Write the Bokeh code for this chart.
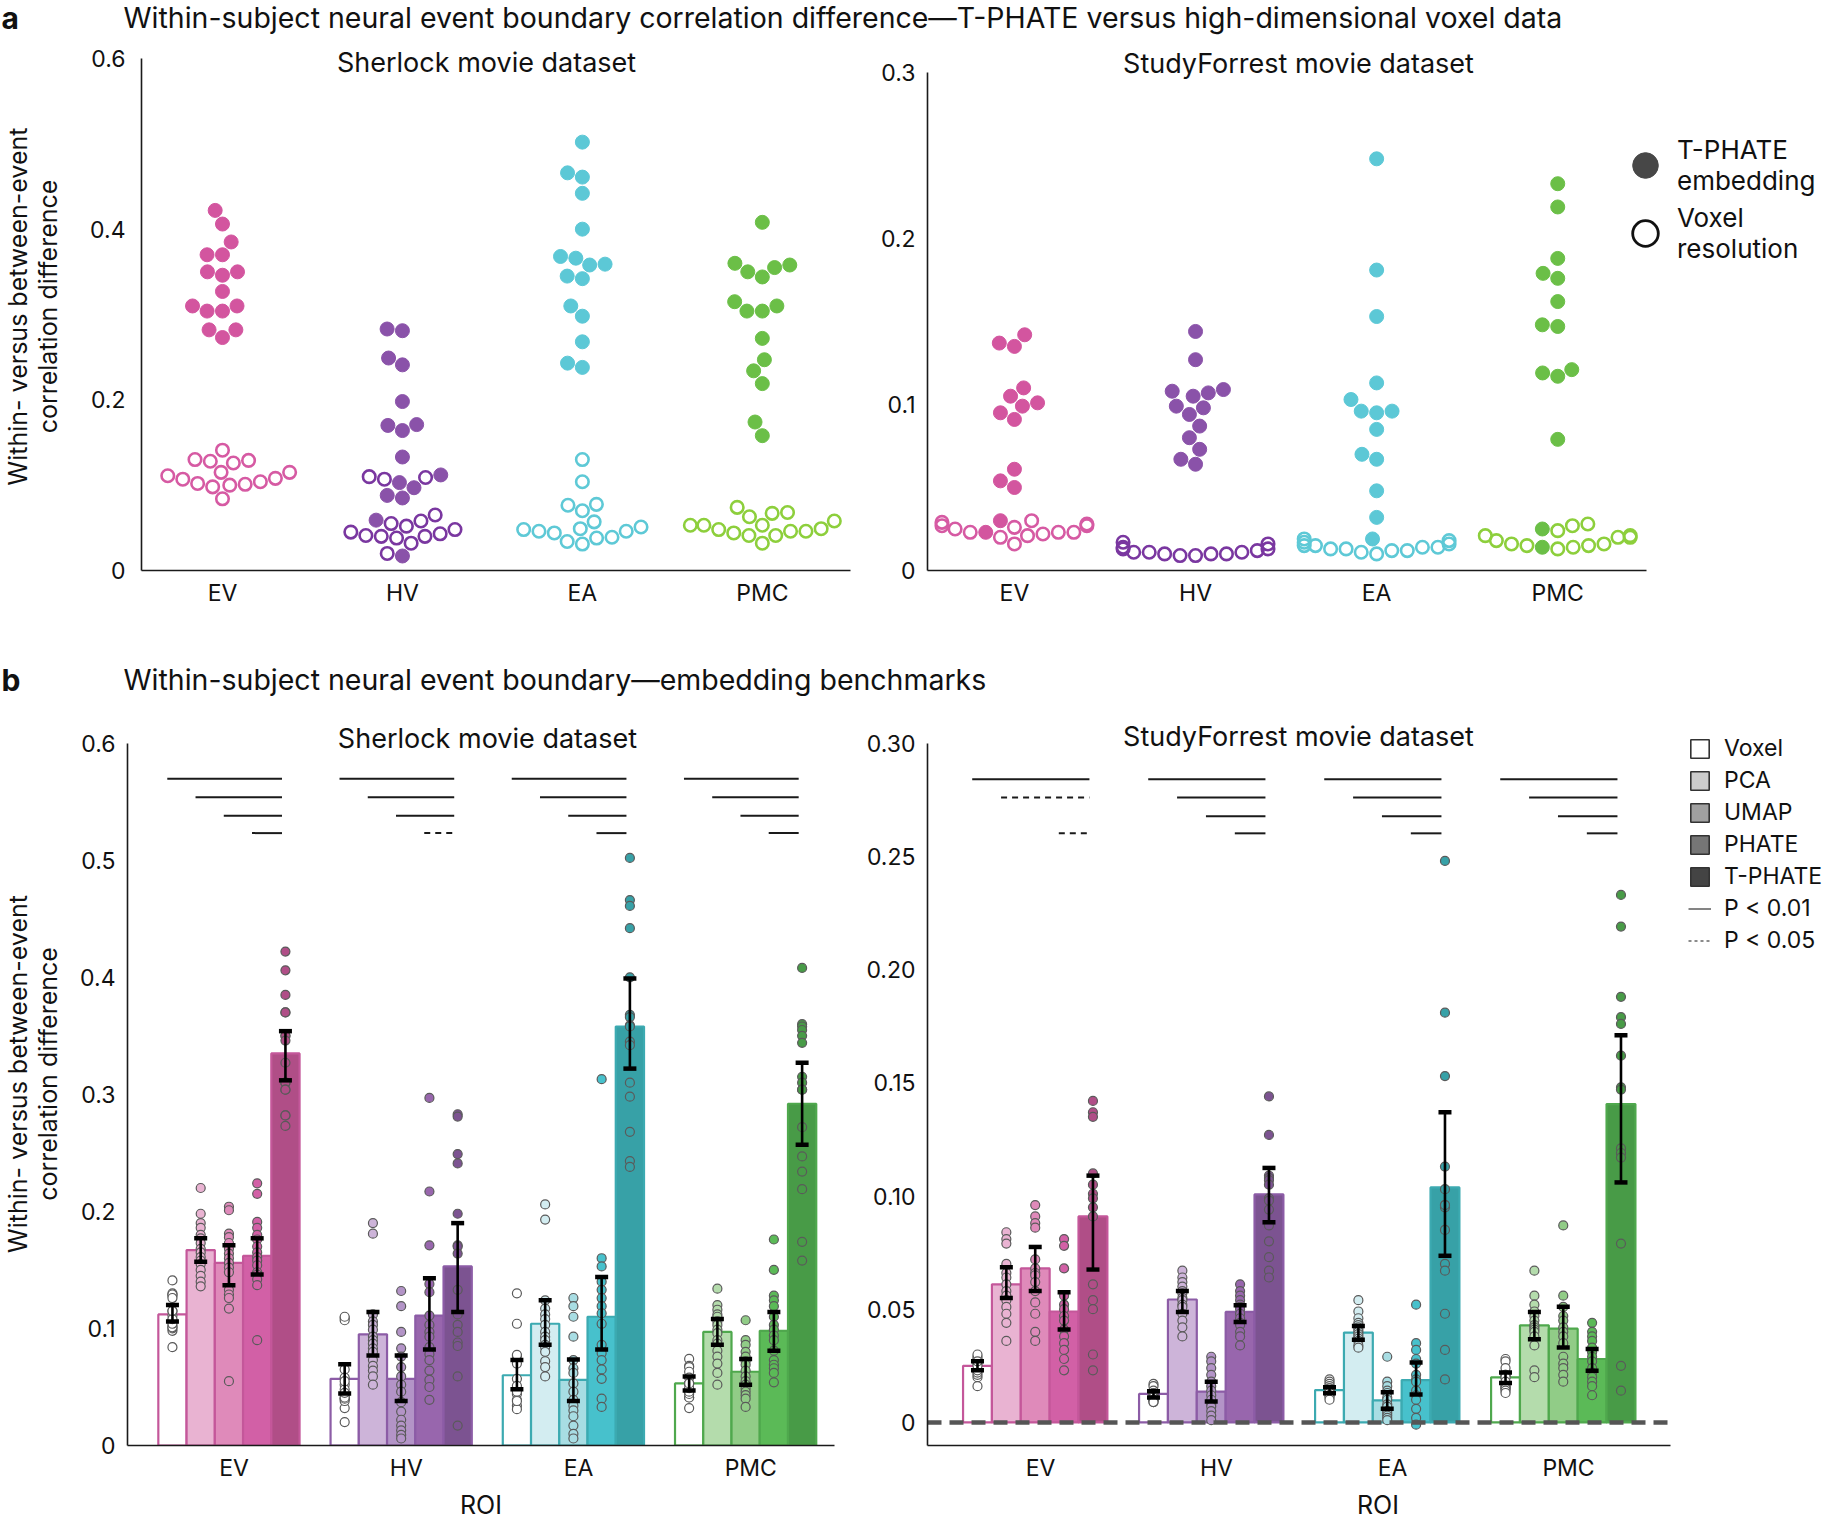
import numpy as np
from bokeh.plotting import figure
from bokeh.models import (Range1d, FixedTicker, Label, Legend, LegendItem, Whisker,
                          TeeHead, ColumnDataSource)
from bokeh.layouts import column, row
from bokeh.embed import file_html
from bokeh.resources import INLINE

FONT = "Inter"
ROIS = ["EV", "HV", "EA", "PMC"]
METHODS = ["Voxel", "PCA", "UMAP", "PHATE", "T-PHATE"]

# ---------------- Sherlock (16 subjects) ----------------
SH_VOXEL = {
    "EV": [0.141, 0.130, 0.128, 0.129, 0.126, 0.115, 0.111, 0.107, 0.102, 0.098, 0.100, 0.101, 0.104, 0.108, 0.115, 0.084],
    "HV": [0.109, 0.107, 0.110, 0.065, 0.058, 0.052, 0.043, 0.040, 0.032, 0.048, 0.038, 0.040, 0.041, 0.045, 0.055, 0.020],
    "EA": [0.130, 0.104, 0.0765, 0.0775, 0.070, 0.057, 0.049, 0.046, 0.044, 0.048, 0.034, 0.031, 0.039, 0.038, 0.046, 0.051],
    "PMC": [0.074, 0.068, 0.067, 0.063, 0.058, 0.053, 0.048, 0.046, 0.041, 0.053, 0.041, 0.044, 0.046, 0.049, 0.053, 0.032],
}
SH_PCA = {
    "EV": [0.220, 0.198, 0.190, 0.186, 0.180, 0.177, 0.173, 0.168, 0.165, 0.161, 0.158, 0.155, 0.150, 0.145, 0.140, 0.136],
    "HV": [0.190, 0.181, 0.112, 0.106, 0.103, 0.099, 0.093, 0.090, 0.087, 0.083, 0.080, 0.073, 0.068, 0.064, 0.059, 0.052],
    "EA": [0.206, 0.193, 0.124, 0.117, 0.112, 0.108, 0.103, 0.097, 0.093, 0.090, 0.086, 0.084, 0.080, 0.072, 0.067, 0.059],
    "PMC": [0.134, 0.120, 0.116, 0.112, 0.110, 0.106, 0.103, 0.099, 0.096, 0.090, 0.087, 0.081, 0.076, 0.070, 0.062, 0.052],
}
SH_UMAP = {
    "EV": [0.204, 0.201, 0.181, 0.178, 0.173, 0.168, 0.164, 0.160, 0.156, 0.152, 0.148, 0.133, 0.129, 0.126, 0.117, 0.055],
    "HV": [0.132, 0.119, 0.097, 0.083, 0.076, 0.067, 0.059, 0.052, 0.046, 0.037, 0.029, 0.022, 0.017, 0.013, 0.009, 0.006],
    "EA": [0.126, 0.119, 0.110, 0.093, 0.073, 0.066, 0.062, 0.053, 0.046, 0.039, 0.034, 0.030, 0.025, 0.017, 0.010, 0.006],
    "PMC": [0.107, 0.090, 0.086, 0.080, 0.076, 0.072, 0.069, 0.064, 0.059, 0.055, 0.052, 0.049, 0.046, 0.043, 0.040, 0.033],
}
SH_PHATE = {
    "EV": [0.224, 0.215, 0.191, 0.186, 0.180, 0.176, 0.170, 0.165, 0.161, 0.158, 0.154, 0.148, 0.146, 0.142, 0.137, 0.090],
    "HV": [0.297, 0.217, 0.171, 0.138, 0.131, 0.111, 0.103, 0.097, 0.093, 0.084, 0.078, 0.073, 0.064, 0.056, 0.050, 0.039],
    "EA": [0.313, 0.160, 0.153, 0.140, 0.133, 0.126, 0.119, 0.113, 0.104, 0.086, 0.079, 0.073, 0.065, 0.057, 0.040, 0.033],
    "PMC": [0.176, 0.150, 0.128, 0.124, 0.119, 0.110, 0.103, 0.099, 0.094, 0.090, 0.081, 0.073, 0.069, 0.066, 0.062, 0.054],
}
SH_TPHATE = {
    "EV": [0.422, 0.406, 0.385, 0.370, 0.370, 0.350, 0.350, 0.346, 0.327, 0.310, 0.310, 0.304, 0.304, 0.282, 0.282, 0.273],
    "HV": [0.283, 0.281, 0.249, 0.241, 0.198, 0.171, 0.170, 0.164, 0.133, 0.112, 0.103, 0.097, 0.088, 0.085, 0.059, 0.017],
    "EA": [0.502, 0.466, 0.461, 0.442, 0.400, 0.368, 0.366, 0.359, 0.358, 0.345, 0.342, 0.310, 0.298, 0.268, 0.243, 0.238],
    "PMC": [0.408, 0.360, 0.358, 0.355, 0.350, 0.344, 0.315, 0.310, 0.304, 0.304, 0.272, 0.247, 0.234, 0.219, 0.174, 0.158],
}
# bar means and 95% CI (rows: Voxel, PCA, UMAP, PHATE, T-PHATE; columns: EV, HV, EA, PMC)
SH_MEAN = [[0.112, 0.057, 0.060, 0.053],
           [0.167, 0.095, 0.104, 0.097],
           [0.156, 0.057, 0.056, 0.063],
           [0.162, 0.111, 0.110, 0.098],
           [0.335, 0.153, 0.358, 0.292]]
SH_LO = [[0.106, 0.0445, 0.048, 0.047],
         [0.157, 0.077, 0.086, 0.086],
         [0.137, 0.038, 0.038, 0.052],
         [0.146, 0.082, 0.082, 0.081],
         [0.312, 0.114, 0.322, 0.257]]
SH_HI = [[0.120, 0.0695, 0.073, 0.059],
         [0.177, 0.114, 0.124, 0.108],
         [0.171, 0.077, 0.0735, 0.074],
         [0.177, 0.143, 0.144, 0.114],
         [0.354, 0.190, 0.399, 0.327]]
# significance of T-PHATE vs (Voxel, PCA, UMAP, PHATE): "01" P<0.01, "05" P<0.05, "" n.s.
SH_SIG = {"EV": ["01", "01", "01", "01"], "HV": ["01", "01", "01", "05"],
          "EA": ["01", "01", "01", "01"], "PMC": ["01", "01", "01", "01"]}

# ---------------- StudyForrest (14 subjects) ----------------
SF_VOXEL = {
    "EV": [0.027, 0.023, 0.023, 0.029, 0.028, 0.026, 0.030, 0.020, 0.016, 0.021, 0.022, 0.023, 0.025, 0.027],
    "HV": [0.017, 0.016, 0.014, 0.013, 0.013, 0.012, 0.011, 0.011, 0.011, 0.010, 0.010, 0.010, 0.009, 0.009],
    "EA": [0.019, 0.018, 0.017, 0.016, 0.015, 0.015, 0.014, 0.014, 0.013, 0.013, 0.012, 0.012, 0.011, 0.010],
    "PMC": [0.028, 0.027, 0.024, 0.021, 0.021, 0.020, 0.020, 0.018, 0.016, 0.016, 0.015, 0.015, 0.014, 0.013],
}
SF_PCA = {
    "EV": [0.084, 0.081, 0.079, 0.070, 0.066, 0.064, 0.061, 0.058, 0.056, 0.054, 0.051, 0.048, 0.044, 0.036],
    "HV": [0.067, 0.064, 0.062, 0.060, 0.058, 0.057, 0.055, 0.054, 0.052, 0.051, 0.048, 0.045, 0.042, 0.038],
    "EA": [0.054, 0.049, 0.046, 0.044, 0.043, 0.042, 0.041, 0.040, 0.039, 0.038, 0.037, 0.036, 0.034, 0.033],
    "PMC": [0.067, 0.056, 0.052, 0.049, 0.047, 0.045, 0.043, 0.042, 0.041, 0.040, 0.038, 0.034, 0.023, 0.020],
}
SF_UMAP = {
    "EV": [0.096, 0.091, 0.088, 0.086, 0.072, 0.068, 0.066, 0.065, 0.062, 0.058, 0.053, 0.048, 0.040, 0.036],
    "HV": [0.029, 0.027, 0.024, 0.021, 0.018, 0.016, 0.014, 0.012, 0.010, 0.008, 0.007, 0.005, 0.003, 0.001],
    "EA": [0.029, 0.018, 0.016, 0.014, 0.013, 0.011, 0.010, 0.008, 0.007, 0.005, 0.004, 0.003, 0.002, 0.001],
    "PMC": [0.087, 0.056, 0.051, 0.047, 0.045, 0.042, 0.040, 0.038, 0.035, 0.029, 0.026, 0.024, 0.021, 0.018],
}
SF_PHATE = {
    "EV": [0.081, 0.078, 0.068, 0.056, 0.052, 0.050, 0.047, 0.045, 0.041, 0.038, 0.035, 0.032, 0.028, 0.023],
    "HV": [0.061, 0.058, 0.056, 0.054, 0.052, 0.051, 0.050, 0.048, 0.046, 0.044, 0.043, 0.040, 0.038, 0.034],
    "EA": [0.052, 0.035, 0.032, 0.028, 0.026, 0.021, 0.019, 0.018, 0.014, 0.012, 0.010, 0.006, 0.002, -0.001],
    "PMC": [0.044, 0.040, 0.038, 0.036, 0.033, 0.031, 0.029, 0.027, 0.024, 0.022, 0.020, 0.018, 0.016, 0.012],
}
SF_TPHATE = {
    "EV": [0.142, 0.137, 0.135, 0.110, 0.105, 0.101, 0.099, 0.095, 0.091, 0.061, 0.054, 0.050, 0.030, 0.023],
    "HV": [0.144, 0.127, 0.109, 0.108, 0.107, 0.105, 0.099, 0.098, 0.094, 0.087, 0.080, 0.073, 0.067, 0.064],
    "EA": [0.248, 0.181, 0.153, 0.113, 0.103, 0.096, 0.095, 0.096, 0.085, 0.070, 0.067, 0.048, 0.032, 0.019],
    "PMC": [0.233, 0.219, 0.188, 0.179, 0.176, 0.162, 0.148, 0.147, 0.121, 0.119, 0.117, 0.079, 0.025, 0.014],
}
SF_MEAN = [[0.025, 0.0126, 0.0143, 0.0199],
           [0.061, 0.0543, 0.0397, 0.0429],
           [0.068, 0.0136, 0.0097, 0.0414],
           [0.049, 0.0488, 0.0187, 0.028],
           [0.091, 0.1007, 0.1038, 0.1406]]
SF_LO = [[0.023, 0.011, 0.0129, 0.0174],
         [0.055, 0.0488, 0.0365, 0.0367],
         [0.058, 0.0092, 0.006, 0.0331],
         [0.041, 0.0444, 0.0123, 0.0228],
         [0.0675, 0.0884, 0.0736, 0.106]]
SF_HI = [[0.027, 0.0138, 0.0155, 0.0221],
         [0.0685, 0.058, 0.0426, 0.0488],
         [0.0775, 0.018, 0.0133, 0.0511],
         [0.0575, 0.0518, 0.0265, 0.0324],
         [0.109, 0.1124, 0.137, 0.171]]
SF_SIG = {"EV": ["01", "05", "", "05"], "HV": ["01", "01", "01", "01"],
          "EA": ["01", "01", "01", "01"], "PMC": ["01", "01", "01", "01"]}

SH_YTICKS_A = [0, 0.2, 0.4, 0.6]
SH_YLABELS_A = ["0", "0.2", "0.4", "0.6"]
SF_YTICKS_A = [0, 0.1, 0.2, 0.3]
SF_YLABELS_A = ["0", "0.1", "0.2", "0.3"]
SH_YTICKS_B = [0, 0.1, 0.2, 0.3, 0.4, 0.5, 0.6]
SH_YLABELS_B = ["0", "0.1", "0.2", "0.3", "0.4", "0.5", "0.6"]
SF_YTICKS_B = [0, 0.05, 0.10, 0.15, 0.20, 0.25, 0.30]
SF_YLABELS_B = ["0", "0.05", "0.10", "0.15", "0.20", "0.25", "0.30"]

# ---------------- styles ----------------
A_FILL = {"EV": "#d3559f", "HV": "#8a52a9", "EA": "#5cc8d6", "PMC": "#6bbf47"}
A_OPEN = {"EV": "#d65aa3", "HV": "#7a37a0", "EA": "#5ec9d6", "PMC": "#8dcf3c"}
BAR_FILL = {
    "EV": ["#ffffff", "#e9b3d2", "#df8aba", "#d260a6", "#b04e87"],
    "HV": ["#ffffff", "#cdb4d9", "#b394c7", "#9866ad", "#7c5391"],
    "EA": ["#ffffff", "#d3edf1", "#a8dde3", "#47c1cc", "#37a1a7"],
    "PMC": ["#ffffff", "#b4dcac", "#91cc87", "#5bba57", "#489b47"],
}
BAR_EDGE = {"EV": "#c4579a", "HV": "#8c5ca6", "EA": "#3caab1", "PMC": "#4fa84d"}
LEG_FILL = ["#ffffff", "#cccccc", "#a0a0a0", "#767676", "#444444"]
OFF = [-0.358, -0.194, -0.03, 0.134, 0.298]
BW = 0.164
YLABEL = "Within- versus between-event\ncorrelation difference"
NAN2 = [float("nan")]
FRAME = {}


def make_fig(width, height, xr, yr, l, r, t, b, xb=None, yb=None):
    p = figure(width=width, height=height, x_range=Range1d(*xr), y_range=Range1d(*yr),
               toolbar_location=None, output_backend="svg",
               min_border_left=l, min_border_right=r, min_border_top=t, min_border_bottom=b)
    p.grid.visible = False
    p.outline_line_color = None
    if xb is not None:
        p.xaxis.bounds = xb
    if yb is not None:
        p.yaxis.bounds = yb
    FRAME[p.id] = (width - l - r, height - t - b)
    return p


def style_axes(p, yticks, ylabels, ylabel=None, xlabel=None, ystand=16, lstand=18):
    p.xaxis.ticker = FixedTicker(ticks=list(range(len(ROIS))))
    p.xaxis.major_label_overrides = {i: name for i, name in enumerate(ROIS)}
    p.yaxis.ticker = FixedTicker(ticks=yticks)
    p.yaxis.major_label_overrides = {tk: lb for tk, lb in zip(yticks, ylabels)}
    for ax in (p.xaxis[0], p.yaxis[0]):
        ax.axis_line_color = "#1a1a1a"
        ax.axis_line_width = 1.6
        ax.major_tick_line_color = None
        ax.minor_tick_line_color = None
        ax.major_tick_out = 0
        ax.major_tick_in = 0
        ax.major_label_text_font = FONT
        ax.major_label_text_font_size = "23px"
        ax.major_label_text_color = "#111111"
        ax.axis_label_text_font = FONT
        ax.axis_label_text_font_size = "25px"
        ax.axis_label_text_font_style = "normal"
        ax.axis_label_text_color = "#111111"
        ax.axis_label_text_line_height = 1.0
    p.xaxis.major_label_standoff = 8
    p.yaxis.major_label_standoff = ystand
    if ylabel:
        p.yaxis.axis_label = ylabel
        p.yaxis.axis_label_standoff = lstand
    if xlabel:
        p.xaxis.axis_label = xlabel
        p.xaxis.axis_label_standoff = 5
        p.xaxis.axis_label_text_font_size = "25px"


def subtitle(p, text, px_from_left, px_from_top):
    fw, fh = FRAME[p.id]
    xr, yr = p.x_range, p.y_range
    x = xr.start + px_from_left * (xr.end - xr.start) / fw
    y = yr.end - px_from_top * (yr.end - yr.start) / fh
    p.add_layout(Label(x=x, y=y, text=text, text_align="center", text_baseline="middle",
                       text_font=FONT, text_font_size="27px", text_color="#111111"))


def beeswarm(vals, d, px_x, px_y, limit):
    ys = np.asarray(vals, float) * px_y
    order = np.argsort(ys, kind="stable")
    pxs, pys = [], []
    out = np.zeros(len(ys))
    for i in order:
        y = ys[i]
        cands = [0.0]
        for qx, qy in zip(pxs, pys):
            dy = y - qy
            if abs(dy) < d:
                dx = (d * d - dy * dy) ** 0.5
                cands.extend([qx + dx, qx - dx])
        cands.sort(key=lambda c: (abs(c), c))
        x = cands[-1]
        for c in cands:
            if all((c - qx) ** 2 + (y - qy) ** 2 >= d * d - 1e-6 for qx, qy in zip(pxs, pys)):
                x = c
                break
        pxs.append(x)
        pys.append(y)
        out[i] = x / px_x
    return np.clip(out, -limit, limit)


def swarm_panel(p, tph, vox):
    fw, fh = FRAME[p.id]
    px_x = fw / (p.x_range.end - p.x_range.start)
    px_y = fh / (p.y_range.end - p.y_range.start)
    for i, roi in enumerate(ROIS):
        vals = np.array(tph[roi] + vox[roi])
        off = beeswarm(vals, 15.5, px_x, px_y, 0.4)
        n = len(tph[roi])
        p.scatter(i + off[:n], vals[:n], size=14, fill_color=A_FILL[roi],
                  line_color=A_FILL[roi], line_width=1)
        p.scatter(i + off[n:], vals[n:], size=12.5, fill_alpha=0,
                  line_color=A_OPEN[roi], line_width=2.6)


def bar_panel(p, means, lo, hi, dots, sig, levels):
    xs, tops, fills, edges, los, his = [], [], [], [], [], []
    for m in range(len(METHODS)):
        for r, roi in enumerate(ROIS):
            xs.append(r + OFF[m])
            tops.append(means[m][r])
            fills.append(BAR_FILL[roi][m])
            edges.append(BAR_EDGE[roi])
            los.append(lo[m][r])
            his.append(hi[m][r])
    p.vbar(x=xs, top=tops, bottom=0, width=BW, fill_color=fills, line_color=edges, line_width=2.2)
    dx, dy, dc = [], [], []
    for m in range(len(METHODS)):
        for r, roi in enumerate(ROIS):
            for v in dots[m][roi]:
                dx.append(r + OFF[m])
                dy.append(v)
                dc.append(BAR_FILL[roi][m])
    p.scatter(dx, dy, size=9, fill_color=dc, line_color="#5a5a5a", line_width=1.2)
    src = ColumnDataSource(dict(x=xs, lo=los, hi=his))
    p.add_layout(Whisker(source=src, base="x", lower="lo", upper="hi", level="annotation",
                         line_color="black", line_width=2.6,
                         upper_head=TeeHead(size=13, line_width=4.5, line_color="black"),
                         lower_head=TeeHead(size=13, line_width=4.5, line_color="black")))
    seg = {"01": ([], [], []), "05": ([], [], [])}
    for r, roi in enumerate(ROIS):
        for k, s in enumerate(sig[roi]):
            if s:
                seg[s][0].append(r + OFF[k] - 0.03)
                seg[s][1].append(r + OFF[4] - 0.02)
                seg[s][2].append(levels[k])
    for s, dash in (("01", "solid"), ("05", "6 5")):
        x0, x1, yy = seg[s]
        if x0:
            p.segment(x0=x0, y0=yy, x1=x1, y1=yy, line_color="#1a1a1a", line_width=2, line_dash=dash)


def header(height, letter, text, ty):
    p = figure(width=1828, height=height, x_range=Range1d(0, 1828), y_range=Range1d(0, height),
               toolbar_location=None, output_backend="svg", x_axis_location=None,
               y_axis_location=None, min_border=0)
    p.grid.visible = False
    p.outline_line_color = None
    p.add_layout(Label(x=1, y=ty, text=letter, text_font=FONT, text_font_style="bold",
                       text_font_size="30px", text_baseline="middle", text_color="#111111"))
    p.add_layout(Label(x=123, y=ty, text=text, text_font=FONT, text_font_size="28.5px",
                       text_baseline="middle", text_color="#111111"))
    return p


# ---------------- panel a ----------------
ha = header(36, "a", "Within-subject neural event boundary correlation difference\u2014T-PHATE versus high-dimensional voxel data", 19)

pa1 = make_fig(858, 606, (-0.45, 3.49), (0, 0.61875), 137, 8, 6, 72, yb=(0, 0.6))
style_axes(pa1, SH_YTICKS_A, SH_YLABELS_A, ylabel=YLABEL, ystand=16, lstand=24)
swarm_panel(pa1, SH_TPHATE, SH_VOXEL)
subtitle(pa1, "Sherlock movie dataset", 347, 20)

pa2 = make_fig(970, 606, (-0.48, 4.495), (0, 0.31807), 69, 0, 6, 72,
               xb=(-0.48, 3.49), yb=(0, 0.3))
style_axes(pa2, SF_YTICKS_A, SF_YLABELS_A, ystand=12)
swarm_panel(pa2, SF_TPHATE, SF_VOXEL)
subtitle(pa2, "StudyForrest movie dataset", 371, 21)
lf = pa2.scatter(x=NAN2, y=NAN2, fill_color="#474747", line_color="#474747")
lo_ = pa2.scatter(x=NAN2, y=NAN2, fill_alpha=0, line_color="#111111", line_width=2.8)
leg_a = Legend(items=[LegendItem(label="T-PHATE\nembedding", renderers=[lf]),
                      LegendItem(label="Voxel\nresolution", renderers=[lo_])],
               location=(686, 305), glyph_width=64, glyph_height=64, spacing=4,
               label_standoff=-4, label_text_font=FONT, label_text_font_size="26px",
               label_text_line_height=1.0, label_text_color="#111111", padding=0, margin=0,
               border_line_color=None, background_fill_alpha=0)
pa2.add_layout(leg_a)

# ---------------- panel b ----------------
hb = header(54, "b", "Within-subject neural event boundary\u2014embedding benchmarks", 17)

pb1 = make_fig(858, 826, (-0.619, 3.486), (0, 0.63480), 121, 24, 6, 72, yb=(0, 0.6))
style_axes(pb1, SH_YTICKS_B, SH_YLABELS_B, ylabel=YLABEL, xlabel="ROI", ystand=12, lstand=14)
bar_panel(pb1, SH_MEAN, SH_LO, SH_HI, [SH_VOXEL, SH_PCA, SH_UMAP, SH_PHATE, SH_TPHATE],
          SH_SIG, [0.5696, 0.5538, 0.538, 0.5232])
subtitle(pb1, "Sherlock movie dataset", 363, 36)

SF_XB = (-0.642, 3.58)
pb2 = make_fig(970, 826, (-0.642, 4.477), (-0.0102, 0.31799), 69, 0, 6, 72,
               xb=SF_XB, yb=(-0.0102, 0.30))
style_axes(pb2, SF_YTICKS_B, SF_YLABELS_B, xlabel="ROI", ystand=12)
bar_panel(pb2, SF_MEAN, SF_LO, SF_HI, [SF_VOXEL, SF_PCA, SF_UMAP, SF_PHATE, SF_TPHATE],
          SF_SIG, [0.2841, 0.2760, 0.2678, 0.2602])
pb2.segment(x0=[SF_XB[0]], y0=[0], x1=[SF_XB[1]], y1=[0], line_color="#555555",
            line_width=4.5, line_dash="14 8")
subtitle(pb2, "StudyForrest movie dataset", 371, 34)

leg_items = []
for name, col in zip(METHODS, LEG_FILL):
    rr = pb2.vbar(x=NAN2, top=NAN2, width=0.1, fill_color=col, line_color="#333333", line_width=1.6)
    leg_items.append(LegendItem(label=name, renderers=[rr]))
l1 = pb2.line(x=NAN2 * 2, y=NAN2 * 2, line_color="#666666", line_width=1.6)
l2 = pb2.line(x=NAN2 * 2, y=NAN2 * 2, line_color="#666666", line_width=1.6, line_dash="3 3")
leg_items.append(LegendItem(label="P < 0.01", renderers=[l1]))
leg_items.append(LegendItem(label="P < 0.05", renderers=[l2]))
leg_b = Legend(items=leg_items, location=(761, 491), glyph_width=23, glyph_height=23,
               spacing=4, label_standoff=13, label_height=23, label_text_font=FONT,
               label_text_font_size="23px", label_text_color="#111111", padding=0, margin=0,
               border_line_color=None, background_fill_alpha=0)
pb2.add_layout(leg_b)

layout = column(ha, row(pa1, pa2), hb, row(pb1, pb2))
open("out.html", "w").write(file_html(layout, INLINE))
